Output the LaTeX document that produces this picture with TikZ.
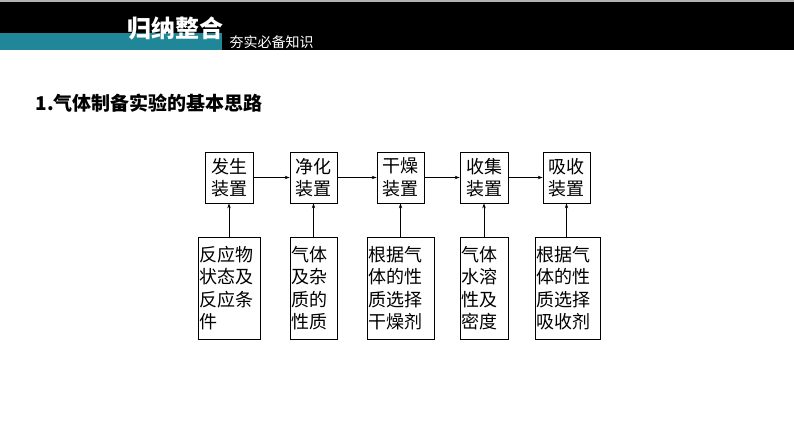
\documentclass[tikz,border=0pt]{standalone}
\usepackage{fontspec}
\newfontfamily\cjk{Noto Sans CJK SC}
\usetikzlibrary{arrows.meta}
\definecolor{tealbar}{HTML}{1F8797}
\begin{document}
\begin{tikzpicture}[x=1pt,y=-1pt,
 box/.style={draw,line width=0.8pt,inner sep=0pt,font=\cjk\fontsize{18}{22.5}\selectfont},
 arr/.style={-{Stealth[length=5pt,width=3.5pt]},line width=0.7pt}]
\useasboundingbox (0,0) rectangle (794,447);
\fill[black] (0,0) rectangle (794,50);
\fill[gray!60] (0,0) rectangle (794,1.5);
\fill[tealbar] (0,33) rectangle (222,50);
\node[anchor=west,text=white,font=\cjk\bfseries\fontsize{24}{24}\selectfont] (t1) at (124,28) {归纳整合};
\node[anchor=west,text=white,font=\cjk\fontsize{14}{14}\selectfont] (t2) at (226,42) {夯实必备知识};
\node[anchor=west,font=\cjk\bfseries\fontsize{19}{19}\selectfont] (h) at (32,103) {1.气体制备实验的基本思路};
\foreach \n/\a/\b/\t in {1/205/253/{发生\\装置},2/290/337/{净化\\装置},3/377/424/{干燥\\装置},4/460/508/{收集\\装置},5/543/590/{吸收\\装置}}{
 \node[box,minimum width={(\b-\a)*1pt},minimum height=51pt,align=center] (u\n) at ({(\a+\b)/2},177.5) {\t};
}
\foreach \n/\a/\b/\t in {1/198/260/{反应物\\状态及\\反应条\\件},2/290/337/{气体\\及杂\\质的\\性质},3/367/434/{根据气\\体的性\\质选择\\干燥剂},4/460/508/{气体\\水溶\\性及\\密度},5/535/600/{根据气\\体的性\\质选择\\吸收剂}}{
 \node[box,minimum width={(\b-\a)*1pt},minimum height=102pt,align=left,text width={(\b-\a-2)*1pt}] (d\n) at ({(\a+\b)/2},288) {\t};
 \draw[arr] (d\n.north -| u\n.south) -- (u\n.south);
}
\foreach \i/\j in {1/2,2/3,3/4,4/5}{\draw[arr] (u\i.east) -- (u\j.west);}
\end{tikzpicture}
\end{document}
